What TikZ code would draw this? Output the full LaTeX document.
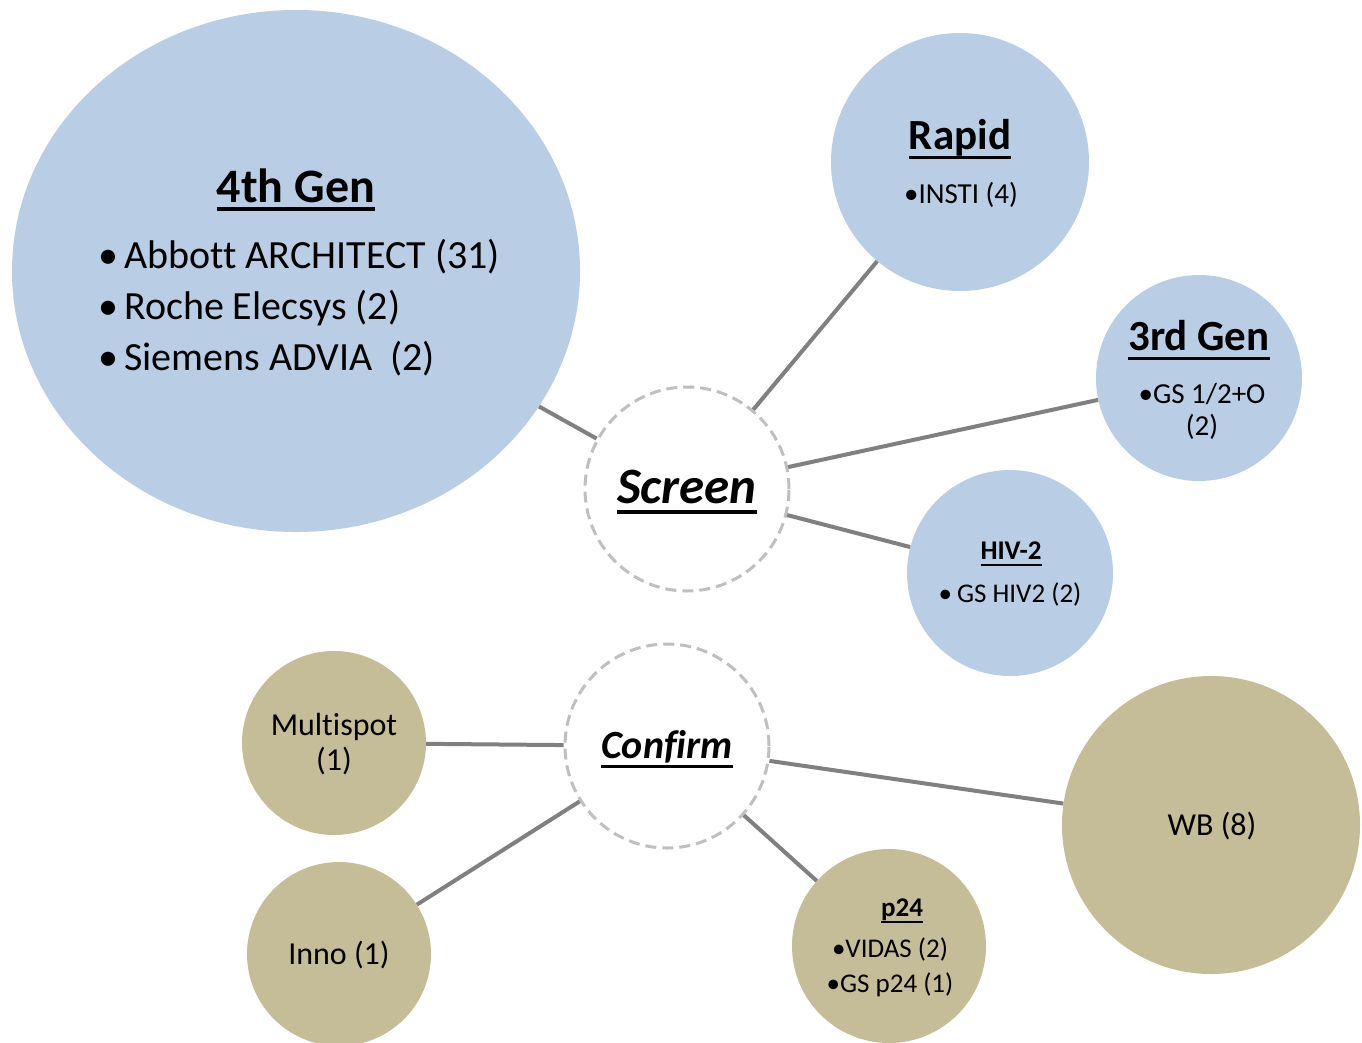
\documentclass[tikz,border=0pt]{standalone}
\usepackage{fontspec}
\setmainfont{Carlito}[Ligatures=NoCommon]
\usetikzlibrary{shapes.geometric}
\definecolor{screenblue}{HTML}{B9CDE5}
\definecolor{confirmtan}{HTML}{C4BD97}
\definecolor{linkgray}{HTML}{808080}
\definecolor{hubgray}{HTML}{BFBFBF}
\newsavebox{\hdbox}
\newcommand{\fs}[2]{\fontsize{#1}{#2}\selectfont}
% underlined heading: thickness, depth below baseline, text
\newcommand{\hd}[3]{\sbox{\hdbox}{#3}\rlap{\vrule width\wd\hdbox height\dimexpr#1-#2\relax depth #2}\usebox{\hdbox}}
\begin{document}
\begin{tikzpicture}
		[	x=1pt,y=-1pt,
		blob/.style={circle,draw=none,fill=screenblue,inner sep=0pt},
		tanblob/.style={blob,fill=confirmtan},
		hub/.style={circle,draw=hubgray,line width=3pt,dash pattern=on 11pt off 6pt,fill=white,inner sep=0pt,minimum size=204pt},
		link/.style={draw=linkgray,line width=4pt},
		txt/.style={inner sep=0pt,align=center},
		]
		\useasboundingbox (0,0) rectangle (1362,1042);

		% screening tests
		\node[blob,ellipse,name=fourth,minimum width=568pt,minimum height=522pt] at (296,271){};
		\node[blob,name=rapid,minimum size=258pt] at (960,162){};
		\node[blob,name=third,minimum size=206pt] at (1199,378){};
		\node[blob,name=hivtwo,minimum size=206pt] at (1010,573){};
		\node[hub,name=screen] at (687,489){};

		% confirmatory tests
		\node[tanblob,name=multispot,minimum size=184pt] at (334,743){};
		\node[tanblob,name=inno,minimum size=184pt] at (339,954){};
		\node[tanblob,name=ptf,minimum size=194pt] at (889,946){};
		\node[tanblob,name=wb,minimum size=298pt] at (1211,825){};
		\node[hub,name=confirm] at (667,746){};

		\draw[link] (screen) -- (fourth);
		\draw[link] (screen) -- (rapid);
		\draw[link] (screen) -- (third);
		\draw[link] (screen) -- (hivtwo);
		\draw[link] (confirm) -- (multispot);
		\draw[link] (confirm) -- (inno);
		\draw[link] (confirm) -- (ptf);
		\draw[link] (confirm) -- (wb);

		% labels
		\node[txt,name=screenlbl,font=\fs{51}{56}\bfseries\itshape] at (687,492) {\hd{4pt}{10pt}{Screen}};
		\node[txt,name=confirmlbl,font=\fs{40}{46}\bfseries\itshape] at (667,749) {\hd{3pt}{9pt}{Confirm}};

		\node[txt,name=fourthlbl,font=\fs{48}{52}\bfseries] at (296,190) {\hd{4pt}{9pt}{4th Gen}};
		\node[txt,name=fourthlist,align=left,anchor=west,font=\fs{40}{51}] at (98,308)
			{•\hspace{6pt}Abbott ARCHITECT (31)\\ •\hspace{6pt}Roche Elecsys (2)\\ •\hspace{6pt}Siemens ADVIA~~(2)};

		\node[txt,name=rapidlbl,font=\fs{43}{48}\bfseries] at (960,139) {\hd{3pt}{9pt}{Rapid}};
		\node[txt,name=rapidlist,font=\fs{29}{32}] at (961,195) {•INSTI (4)};

		\node[txt,name=thirdlbl,font=\fs{43}{48}\bfseries] at (1199,340) {\hd{3pt}{9pt}{3rd Gen}};
		\node[txt,name=thirdlist,font=\fs{29}{32}] at (1202,411) {•GS 1/2+O\\(2)};

		\node[txt,name=hivtwolbl,font=\fs{27}{30}\bfseries] at (1011,554) {\hd{2pt}{6pt}{HIV-2}};
		\node[txt,name=hivtwolist,font=\fs{27}{30}] at (1010,594) {•\hspace{5pt}GS HIV2 (2)};

		\node[txt,name=multispotlbl,font=\fs{32}{35}] at (334,744) {Multispot\\(1)};
		\node[txt,name=innolbl,font=\fs{32}{35}] at (339,955) {Inno (1)};
		\node[txt,name=wblbl,font=\fs{32}{35}] at (1212,826) {WB (8)};

		\node[txt,name=ptflbl,font=\fs{27}{30}\bfseries] at (902,911) {\hd{2pt}{6pt}{p24}};
		\node[txt,name=ptflist,font=\fs{27}{35}] at (890,967) {•VIDAS (2)\\•GS p24 (1)};
	\end{tikzpicture}
\end{document}
